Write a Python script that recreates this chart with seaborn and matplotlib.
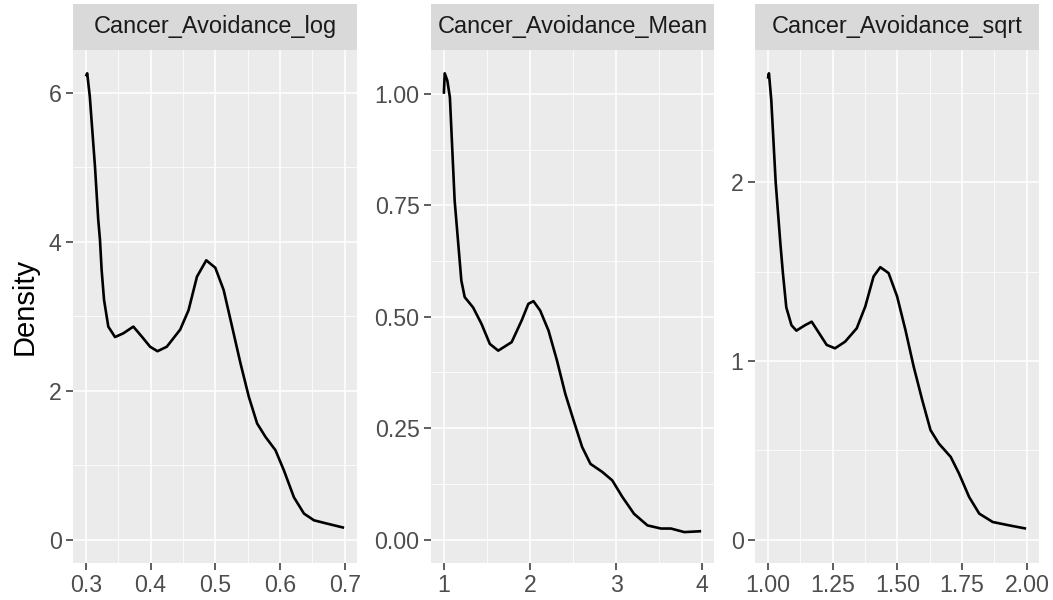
import numpy as np
import pandas as pd
import seaborn as sns
import matplotlib
matplotlib.use("Agg")
import matplotlib.pyplot as plt
from matplotlib.ticker import FixedLocator, FixedFormatter

# ---------------- data ----------------
facet_titles = ["Cancer_Avoidance_log", "Cancer_Avoidance_Mean", "Cancer_Avoidance_sqrt"]

log_x = [0.300, 0.302, 0.306, 0.314, 0.319, 0.3217, 0.3243, 0.328, 0.3346, 0.345,
         0.3578, 0.3733, 0.386, 0.3992, 0.4106, 0.425, 0.4457, 0.4586, 0.4716, 0.486,
         0.500, 0.5129, 0.5259, 0.5388, 0.5517, 0.5646, 0.5775, 0.593, 0.606, 0.6214,
         0.637, 0.6525, 0.673, 0.699]
log_y = [6.22, 6.26, 5.95, 5.01, 4.30, 4.03, 3.62, 3.22, 2.86, 2.72,
         2.77, 2.86, 2.73, 2.59, 2.53, 2.59, 2.82, 3.08, 3.53, 3.75,
         3.65, 3.35, 2.86, 2.37, 1.92, 1.56, 1.38, 1.20, 0.93, 0.57,
         0.35, 0.26, 0.215, 0.16]

mean_x = [1.00, 1.01, 1.04, 1.07, 1.125, 1.203, 1.242, 1.339, 1.437, 1.534, 1.631,
          1.787, 1.904, 1.981, 2.04, 2.118, 2.215, 2.313, 2.41, 2.507, 2.605, 2.702,
          2.839, 2.955, 3.072, 3.208, 3.364, 3.52, 3.637, 3.792, 3.987]
mean_y = [1.00, 1.046, 1.03, 0.992, 0.761, 0.581, 0.544, 0.521, 0.484, 0.439, 0.424,
          0.443, 0.492, 0.529, 0.535, 0.514, 0.469, 0.402, 0.327, 0.267, 0.208, 0.170,
          0.152, 0.133, 0.096, 0.058, 0.032, 0.025, 0.025, 0.017, 0.019]

sqrt_x = [1.000, 1.004, 1.013, 1.030, 1.048, 1.058, 1.071, 1.091, 1.110, 1.143, 1.169,
          1.194, 1.227, 1.259, 1.298, 1.343, 1.376, 1.408, 1.434, 1.466, 1.499, 1.531,
          1.563, 1.596, 1.628, 1.660, 1.706, 1.738, 1.777, 1.816, 1.868, 1.932, 1.997]
sqrt_y = [2.58, 2.61, 2.46, 2.00, 1.66, 1.49, 1.30, 1.20, 1.17, 1.20, 1.22,
          1.164, 1.09, 1.071, 1.108, 1.183, 1.305, 1.473, 1.525, 1.492, 1.361, 1.174,
          0.968, 0.781, 0.613, 0.538, 0.463, 0.370, 0.239, 0.146, 0.099, 0.080, 0.062]

x_major_ticks = [[0.3, 0.4, 0.5, 0.6, 0.7], [1, 2, 3, 4], [1.0, 1.25, 1.5, 1.75, 2.0]]
x_minor_ticks = [[0.35, 0.45, 0.55, 0.65], [1.5, 2.5, 3.5], [1.125, 1.375, 1.625, 1.875]]
x_tick_labels = [["0.3", "0.4", "0.5", "0.6", "0.7"], ["1", "2", "3", "4"],
                 ["1.00", "1.25", "1.50", "1.75", "2.00"]]
y_major_ticks = [[0, 2, 4, 6], [0, 0.25, 0.5, 0.75, 1.0], [0, 1, 2]]
y_minor_ticks = [[1, 3, 5], [0.125, 0.375, 0.625, 0.875], [0.5, 1.5, 2.5]]
y_tick_labels = [["0", "2", "4", "6"], ["0.00", "0.25", "0.50", "0.75", "1.00"],
                 ["0", "1", "2"]]
y_title = "Density"

series = [(log_x, log_y), (mean_x, mean_y), (sqrt_x, sqrt_y)]

# ---------------- style ----------------
sns.set_theme(style="white")
plt.rcParams["font.family"] = ["Liberation Sans", "DejaVu Sans"]
plt.rcParams["lines.solid_joinstyle"] = "round"
plt.rcParams["lines.solid_capstyle"] = "butt"

W, H = 1053, 600
fig = plt.figure(figsize=(W / 100, H / 100), dpi=100, facecolor="white")

panels_px = [(73, 357), (431, 714), (755, 1039)]
top_px, bottom_px, strip_top_px = 50, 563, 4

for i, (l, r) in enumerate(panels_px):
    ax = fig.add_axes([l / W, 1 - bottom_px / H, (r - l) / W, (bottom_px - top_px) / H])
    xs, ys = series[i]
    df = pd.DataFrame({"x": xs, "y": ys})
    sns.lineplot(data=df, x="x", y="y", ax=ax, color="black", linewidth=1.9,
                 estimator=None, sort=False)
    xmin, xmax = min(xs), max(xs)
    xpad = 0.05 * (xmax - xmin)
    ymax = max(ys)
    ypad = 0.05 * ymax
    ax.set_xlim(xmin - xpad, xmax + xpad)
    ax.set_ylim(-ypad, ymax + ypad)

    ax.set_facecolor("#EBEBEB")
    for s in ax.spines.values():
        s.set_visible(False)
    ax.xaxis.set_major_locator(FixedLocator(x_major_ticks[i]))
    ax.xaxis.set_major_formatter(FixedFormatter(x_tick_labels[i]))
    ax.xaxis.set_minor_locator(FixedLocator(x_minor_ticks[i]))
    ax.yaxis.set_major_locator(FixedLocator(y_major_ticks[i]))
    ax.yaxis.set_major_formatter(FixedFormatter(y_tick_labels[i]))
    ax.yaxis.set_minor_locator(FixedLocator(y_minor_ticks[i]))
    ax.set_axisbelow(True)
    ax.grid(which="major", color="white", linewidth=1.15)
    ax.grid(which="minor", color="white", linewidth=0.55)
    ax.tick_params(which="major", length=4.7, width=1.1, color="#333333",
                   labelsize=16.7, labelcolor="#4D4D4D", pad=3.5,
                   bottom=True, left=True)
    ax.tick_params(which="minor", length=0)
    ax.set_xlabel("")
    ax.set_ylabel("")

    sax = fig.add_axes([l / W, 1 - top_px / H, (r - l) / W, (top_px - strip_top_px) / H])
    sax.set_facecolor("#D9D9D9")
    sax.set_xticks([])
    sax.set_yticks([])
    for s in sax.spines.values():
        s.set_visible(False)
    sax.text(0.5, 0.5, facet_titles[i], ha="center", va="center",
             fontsize=16.9, color="#1A1A1A", transform=sax.transAxes)

fig.text(25 / W, 1 - ((top_px + bottom_px) / 2) / H, y_title, rotation=90,
         ha="center", va="center", fontsize=21, color="black")

fig.savefig("out.png", dpi=100, facecolor="white")
